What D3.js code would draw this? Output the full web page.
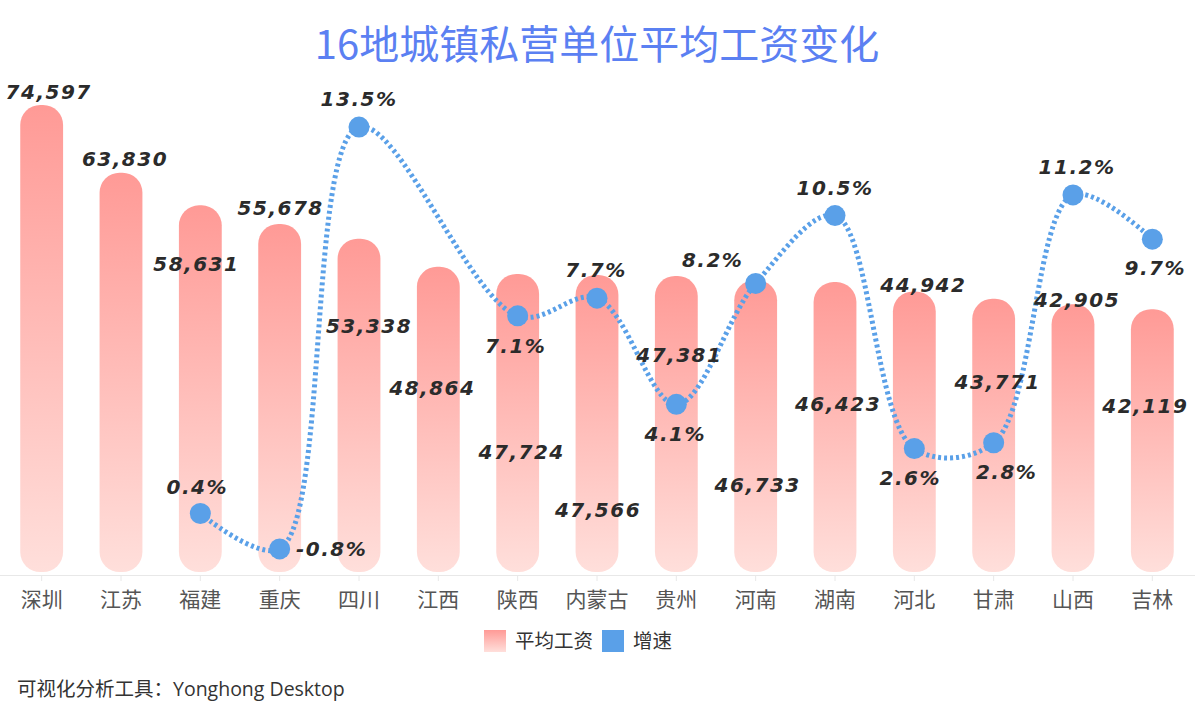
<!DOCTYPE html>
<html>
<head>
<meta charset="utf-8">
<script src="https://cdn.jsdelivr.net/npm/d3@7"></script>
<style>
  html, body { margin: 0; padding: 0; background: #fff; }
  svg { display: block; }
</style>
</head>
<body>
<svg id="chart" width="1200" height="709"></svg>
<script>
// ---- data ----
const categories = ["深圳","江苏","福建","重庆","四川","江西","陕西","内蒙古","贵州","河南","湖南","河北","甘肃","山西","吉林"];
const wages = [74597, 63830, 58631, 55678, 53338, 48864, 47724, 47566, 47381, 46733, 46423, 44942, 43771, 42905, 42119];
const growth = [null, null, 0.4, -0.8, 13.5, null, 7.1, 7.7, 4.1, 8.2, 10.5, 2.6, 2.8, 11.2, 9.7];
const seriesNames = ["平均工资", "增速"];
const titleText = "16地城镇私营单位平均工资变化";
const footerText = "可视化分析工具：Yonghong Desktop";

// ---- layout for labels (pixel offsets) ----
const wageLabelDy = [-13, -14, 58, -16, 87, 121, 178, 235, 79, 205, 122, -7, 83, -4, 97];
const wageLabelDx = [7, 4, -4, 1, 10, -6, 4, 1, 3, 2, 3, 9, 4, 4, -7];
const growthLabelDx = [0, 0, -3, 52, 0, 0, -2, -1, -1, -43, 0, -4, 13, 4, 3];
const growthLabelDy = [0, 0, -27, 0, -28, 0, 30, -28, 29, -24, -28, 29, 29, -28, 29];

const W = 1200, H = 709;
const svg = d3.select("#chart");

const x = d3.scaleBand().domain(categories).range([2, 1192]).paddingInner(0.46).paddingOuter(0.23);
const yL = d3.scaleLinear().domain([0, 80000]).range([574, 71]);
const yR = d3.scaleLinear().domain([-1.65, 15.4]).range([574, 71]);

const defs = svg.append("defs");
const grad = defs.append("linearGradient").attr("id", "barGrad")
  .attr("x1", 0).attr("y1", 0).attr("x2", 0).attr("y2", 1);
grad.append("stop").attr("offset", "0%").attr("stop-color", "#ff9a96");
grad.append("stop").attr("offset", "100%").attr("stop-color", "#ffdfdb");

// title
svg.append("text")
  .attr("x", 597).attr("y", 59)
  .attr("text-anchor", "middle")
  .attr("font-family", "'Noto Sans CJK SC', 'Noto Sans', sans-serif")
  .attr("font-size", 40)
  .attr("fill", "#5b80f2")
  .text(titleText);

// bars
const bw = x.bandwidth();
svg.append("g").selectAll("rect")
  .data(categories)
  .join("rect")
  .attr("x", d => x(d))
  .attr("y", (d, i) => yL(wages[i]))
  .attr("width", bw)
  .attr("height", (d, i) => yL(0) - yL(wages[i]) - 2)
  .attr("rx", 20).attr("ry", 20)
  .attr("fill", "url(#barGrad)");

// x axis
const axisG = svg.append("g").attr("transform", `translate(0,${yL(0) + 1})`);
const xAxis = d3.axisBottom(x).tickSize(6).tickPadding(8);
axisG.call(xAxis);
axisG.select(".domain").attr("stroke", "#e8e8e8").attr("d", "M0,0.5H1195");
axisG.selectAll(".tick line").attr("stroke", "#e8e8e8");
axisG.selectAll(".tick text")
  .attr("font-family", "'Noto Sans CJK SC', sans-serif")
  .attr("font-size", 21)
  .attr("fill", "#555")
  .attr("dy", "0.85em");

// line
const pts = categories.map((c, i) => ({c, i, v: growth[i]})).filter(d => d.v !== null);
const line = d3.line()
  .x(d => x(d.c) + bw / 2)
  .y(d => yR(d.v))
  .curve(d3.curveCatmullRom.alpha(0.5));
svg.append("path")
  .datum(pts)
  .attr("d", line)
  .attr("fill", "none")
  .attr("stroke", "#5aa0e8")
  .attr("stroke-width", 5)
  .attr("stroke-dasharray", "3,3");

svg.append("g").selectAll("circle")
  .data(pts)
  .join("circle")
  .attr("cx", d => x(d.c) + bw / 2)
  .attr("cy", d => yR(d.v))
  .attr("r", 10.5)
  .attr("fill", "#5aa0e8");

const labelFont = "'DejaVu Sans', Verdana, sans-serif";
// wage labels
svg.append("g").selectAll("text")
  .data(categories)
  .join("text")
  .attr("x", (d, i) => x(d) + bw / 2 + wageLabelDx[i])
  .attr("y", (d, i) => yL(wages[i]) + wageLabelDy[i])
  .attr("dy", "0.36em")
  .attr("text-anchor", "middle")
  .attr("font-family", labelFont)
  .attr("font-weight", "bold")
  .attr("font-style", "italic")
  .attr("font-size", 20)
  .attr("letter-spacing", 1.5)
  .attr("fill", "#2b2b2b")
  .text((d, i) => d3.format(",")(wages[i]));

// growth labels
svg.append("g").selectAll("text")
  .data(pts)
  .join("text")
  .attr("x", d => x(d.c) + bw / 2 + growthLabelDx[d.i])
  .attr("y", d => yR(d.v) + growthLabelDy[d.i])
  .attr("dy", "0.36em")
  .attr("text-anchor", "middle")
  .attr("font-family", labelFont)
  .attr("font-weight", "bold")
  .attr("font-style", "italic")
  .attr("font-size", 20)
  .attr("letter-spacing", 1.5)
  .attr("fill", "#2b2b2b")
  .text(d => d.v + "%");

// legend
const lg = svg.append("g");
lg.append("rect").attr("x", 484).attr("y", 630).attr("width", 22).attr("height", 22).attr("fill", "url(#barGrad)");
lg.append("text").attr("x", 515).attr("y", 648)
  .attr("font-family", "'Noto Sans CJK SC', sans-serif").attr("font-size", 19.5).attr("fill", "#333")
  .text(seriesNames[0]);
lg.append("rect").attr("x", 602).attr("y", 630).attr("width", 22).attr("height", 22).attr("fill", "#5aa0e8");
lg.append("text").attr("x", 633).attr("y", 648)
  .attr("font-family", "'Noto Sans CJK SC', sans-serif").attr("font-size", 19.5).attr("fill", "#333")
  .text(seriesNames[1]);

// footer
svg.append("text")
  .attr("x", 17).attr("y", 696)
  .attr("font-family", "'Open Sans', 'Noto Sans CJK SC', sans-serif")
  .attr("font-size", 19.5)
  .attr("fill", "#333")
  .text(footerText);
</script>
</body>
</html>
